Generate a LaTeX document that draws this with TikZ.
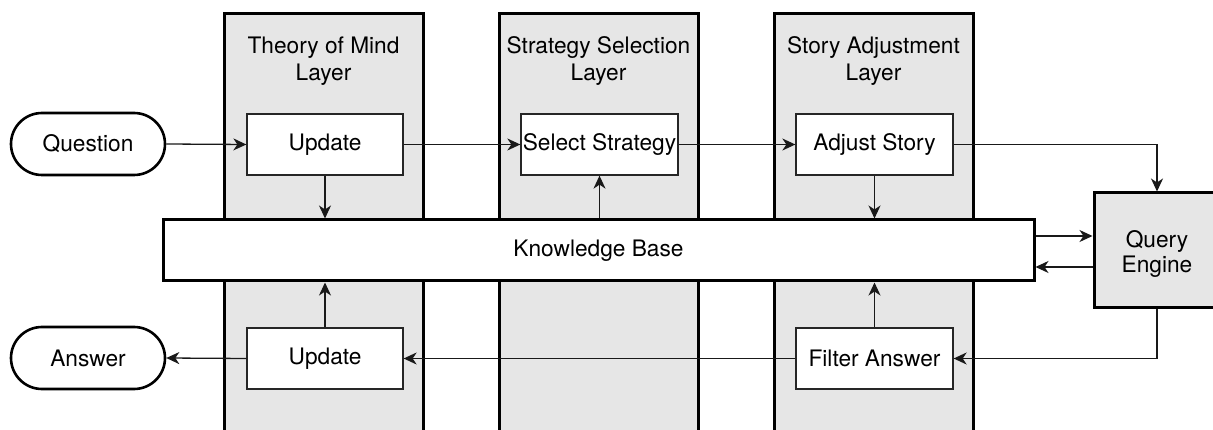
\documentclass[tikz,border=0pt]{standalone}
\usepackage{fontspec}
\setmainfont{TeX Gyre Heros}
\usetikzlibrary{arrows.meta,positioning}
\definecolor{layergray}{RGB}{230,230,230}
\tikzset{
  layerbox/.style={draw=black, line width=3pt, fill=layergray},
  title/.style={align=center, inner sep=0pt, font=\fontsize{22.7}{26.5}\selectfont},
  proc/.style={draw=black!85, line width=1.3pt, fill=white, inner sep=0pt, font=\fontsize{22.7}{27}\selectfont, align=center},
  term/.style={draw=black, line width=2.6pt, fill=white, inner sep=0pt, rounded corners=31pt, minimum width=154pt, minimum height=62pt, font=\fontsize{22.7}{27}\selectfont},
  kbbox/.style={draw=black, line width=3pt, fill=white, inner sep=0pt, minimum width=871pt, minimum height=61pt, font=\fontsize{22.7}{27}\selectfont},
  qebox/.style={draw=black, line width=3pt, fill=layergray, inner sep=0pt, minimum width=126pt, minimum height=115pt, align=center, font=\fontsize{22.7}{26}\selectfont},
  arr/.style={draw=black!90, line width=1.3pt, -{Stealth[length=13pt, width=12pt, inset=4pt]}},
}
\begin{document}
\begin{tikzpicture}[x=1pt, y=-1pt]
\useasboundingbox (0,0) rectangle (1213,430);
\clip (0,0) rectangle (1213,430);
\fill[white] (0,0) rectangle (1213,430);
% layers
\draw[layerbox] (224,14) rectangle (423,445);
\draw[layerbox] (499,14) rectangle (698,445);
\draw[layerbox] (774,14) rectangle (973,445);
\node[title] (t1) at (323.5,61) {Theory of Mind\\Layer};
\node[title] (t2) at (598.5,61) {Strategy Selection\\Layer};
\node[title] (t3) at (873.5,61) {Story Adjustment\\Layer};
% nodes
\node[term] (q) at (88,144) {Question};
\node[term] (ans) at (88,358) {Answer};
\node[proc, minimum width=156pt, minimum height=61pt] (u1) at (325,144.5) {Update};
\node[proc, minimum width=157pt, minimum height=61pt] (ss) at (599.5,144.5) {Select Strategy};
\node[proc, minimum width=157pt, minimum height=61pt] (as) at (874.5,144.5) {Adjust Story};
\node[proc, minimum width=156pt, minimum height=61pt] (u2) at (325,358.5) {Update};
\node[proc, minimum width=157pt, minimum height=61pt] (fa) at (874.5,358.5) {Filter Answer};
\node[kbbox] (kb) at (598.5,250.5) {Knowledge Base};
\node[qebox] (qe) at (1157,250.5) {\raisebox{-4pt}[\height][\depth]{\begin{tabular}{@{}c@{}}Query\\[-1pt]Engine\end{tabular}}};
% connectors
\draw[arr] (q.east) -- (u1.west);
\draw[arr] (u1.east) -- (ss.west);
\draw[arr] (ss.east) -- (as.west);
\draw[arr] (as.east) -| (qe.north);
\draw[arr] (u1.south) -- (u1.south |- kb.north);
\draw[arr] (ss.south |- kb.north) -- (ss.south);
\draw[arr] (as.south) -- (as.south |- kb.north);
\draw[arr] ([yshift=14.5pt]kb.east) -- ([yshift=14.5pt]kb.east -| qe.west);
\draw[arr] ([yshift=-16.5pt]qe.west) -- ([yshift=-16.5pt]qe.west -| kb.east);
\draw[arr] (qe.south) |- (fa.east);
\draw[arr] (fa.north) -- (fa.north |- kb.south);
\draw[arr] (fa.west) -- (u2.east);
\draw[arr] (u2.north) -- (u2.north |- kb.south);
\draw[arr] (u2.west) -- (ans.east);
\end{tikzpicture}
\end{document}
